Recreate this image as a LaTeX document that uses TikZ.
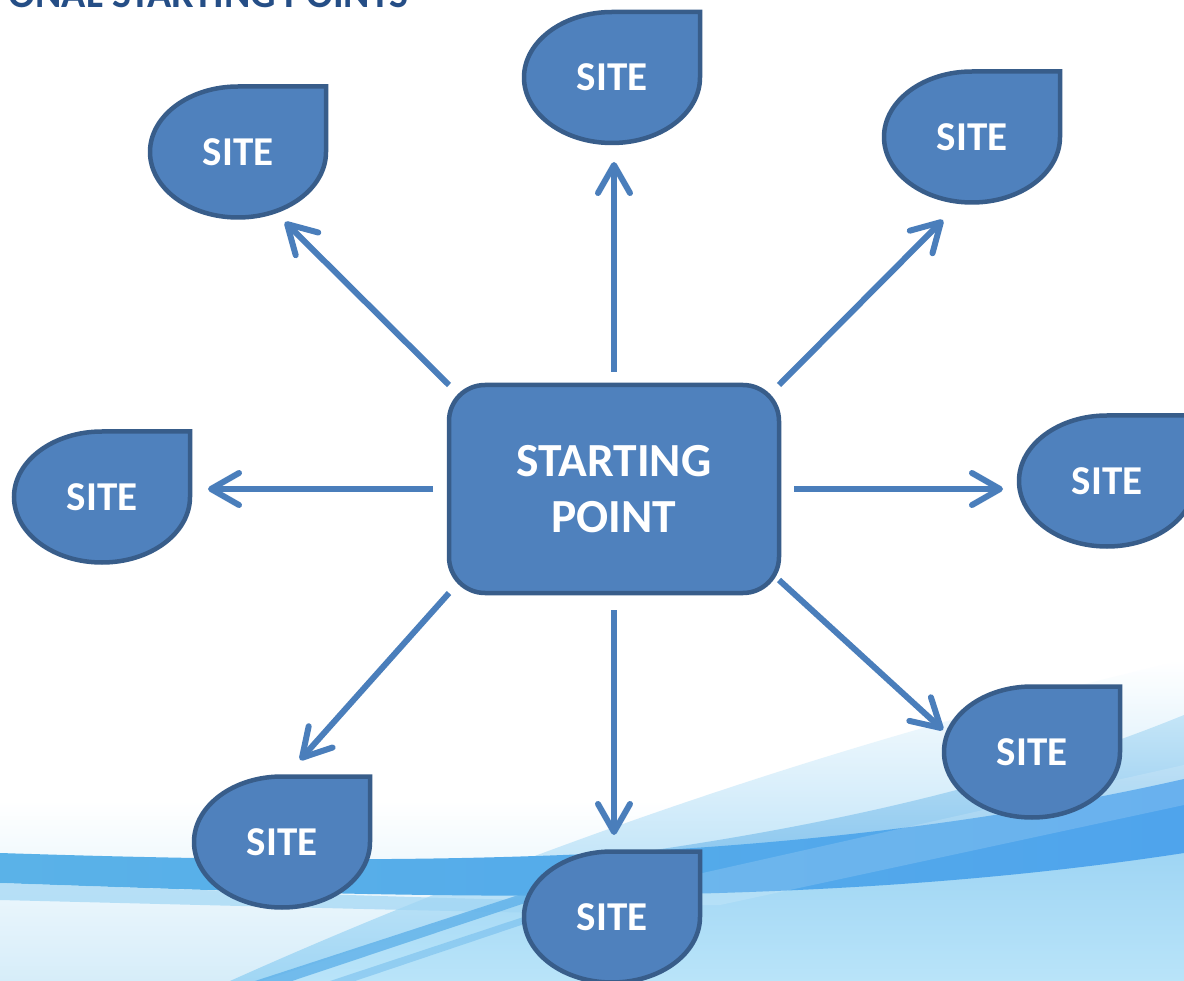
\documentclass[tikz,border=0pt]{standalone}
\usepackage{fontspec}
\setmainfont{Carlito}
\usetikzlibrary{arrows.meta,calc}
\definecolor{boxfill}{HTML}{4F81BD}
\definecolor{boxline}{HTML}{385D8A}
\definecolor{arrowc}{HTML}{4A7EBB}
\definecolor{titlec}{HTML}{254E86}
\definecolor{bandL}{HTML}{5AB2E8}
\definecolor{bandM}{HTML}{3D91DE}
\definecolor{bandR}{HTML}{4FA4EC}
\definecolor{wedgeT}{HTML}{C4E5F7}
\definecolor{wedge}{HTML}{A0D6F4}
\definecolor{wedgeB}{HTML}{B9E4F9}
\definecolor{midblue}{HTML}{86C4EE}
\definecolor{paleL}{HTML}{D6EDF9}
\definecolor{streak}{HTML}{5AAEE8}
\pgfdeclarelayer{bg}
\pgfdeclarelayer{mid}
\pgfsetlayers{bg,mid,main}
\tikzset{
  sitenode/.style={rectangle, minimum width=176pt, minimum height=131pt, inner sep=0pt, outer sep=0pt, text=white, font=\bfseries\fontsize{41}{48}\selectfont},
  sitebody/.style={fill=boxfill, draw=boxline, line width=4.5pt},
  startbox/.style={rectangle, rounded corners=36pt, fill=boxfill, draw=boxline, line width=4.5pt, minimum width=330pt, minimum height=208pt, outer sep=0pt, text=white, align=center, font=\bfseries\fontsize{47.5}{56}\selectfont},
  arr/.style={draw=arrowc, line width=6pt, -{Straight Barb[length=28pt,width=32pt,round]}},
  titletext/.style={anchor=base east, text=titlec, inner sep=0pt, font=\bfseries\fontsize{40}{48}\selectfont},
}
\newcommand{\sitedrop}[1]{%
  \begin{pgfonlayer}{mid}
  \path[sitebody] (#1.east) -- (#1.north east) -- (#1.north)
    .. controls ($(#1.north)!0.552!(#1.north west)$) and ($(#1.west)!0.552!(#1.north west)$) .. (#1.west)
    .. controls ($(#1.west)!0.552!(#1.south west)$) and ($(#1.south)!0.552!(#1.south west)$) .. (#1.south)
    .. controls ($(#1.south)!0.552!(#1.south east)$) and ($(#1.east)!0.552!(#1.south east)$) .. (#1.east) -- cycle;
  \end{pgfonlayer}}
\begin{document}
\begin{tikzpicture}[x=1pt,y=-1pt]
\useasboundingbox (0,0) rectangle (1184,981);
% background
\begin{pgfonlayer}{bg}
  \fill[white] (0,0) rectangle (1184,981);
  % pale lower band on the left
  \shade[top color=white, bottom color=paleL] (0,800) rectangle (1184,981);
  % light wedge rising to the right
  \shade[top color=white, middle color=wedgeT, bottom color=wedge]
    (230,981) .. controls (500,860) and (820,745) .. (1184,660) -- (1184,981) -- cycle;
  % mid blue zone above band
  \shade[top color=wedgeT, bottom color=midblue]
    (480,872) .. controls (780,840) and (1000,790) .. (1184,715) -- (1184,800) .. controls (900,865) .. (480,875) -- cycle;
  % light zone below band, right of the diagonal
  \shade[top color=wedge!90!midblue, bottom color=wedgeB]
    (545,888) .. controls (800,890) and (1000,870) .. (1184,845) -- (1184,981) -- (262,981) -- cycle;
  % main band
  \shade[left color=bandL, middle color=bandM, right color=bandR]
    (0,853) .. controls (400,866) and (800,866) .. (1184,779) -- (1184,853)
    .. controls (800,912) and (400,897) .. (0,883) -- cycle;
  % light strip under the band at left
  \fill[wedge, opacity=0.7] (0,883) .. controls (400,897) .. (640,903) -- (640,915) .. controls (400,910) .. (0,900) -- cycle;
  % lighter diagonal inside band
  \fill[white, opacity=0.15] (560,905) -- (1184,765) -- (1184,805) -- (720,905) -- cycle;
  % diagonal streaks lower left
  \fill[streak, opacity=0.75] (255,981) -- (540,888) -- (570,888) -- (292,981) -- cycle;
  \fill[streak, opacity=0.4] (330,981) -- (620,885) -- (640,885) -- (355,981) -- cycle;
\end{pgfonlayer}
% title
\node[titletext] (title) at (409,8) {ONAL STARTING POINTS};
% centre
\node[startbox] (box) at (614,489) {STARTING\\POINT};
% sites
\node[sitenode] (s1) at (612,77.5) {SITE};
\node[sitenode] (s2) at (238,152) {SITE};
\node[sitenode] (s3) at (972,137) {SITE};
\node[sitenode] (s4) at (102,497) {SITE};
\node[sitenode] (s5) at (1107,481) {SITE};
\node[sitenode] (s6) at (282,842) {SITE};
\node[sitenode] (s7) at (612,917) {SITE};
\node[sitenode] (s8) at (1032,752) {SITE};
\sitedrop{s1}\sitedrop{s2}\sitedrop{s3}\sitedrop{s4}
\sitedrop{s5}\sitedrop{s6}\sitedrop{s7}\sitedrop{s8}
% arrows
\draw[arr] ([yshift=13pt]box.north) -- ([shift={(2pt,-19pt)}]s1.south);
\draw[arr] (box.north west) -- ([shift={(47pt,-4.5pt)}]s2.south);
\draw[arr] (box.north east) -- ([shift={(-29pt,-17.5pt)}]s3.south);
\draw[arr] ([xshift=-16pt]box.west) -- ([shift={(18pt,8pt)}]s4.east);
\draw[arr] ([xshift=15pt]box.east) -- ([shift={(-16pt,-8pt)}]s5.west);
\draw[arr] (box.south west) -- ([shift={(18pt,16.5pt)}]s6.north);
\draw[arr] ([yshift=-17pt]box.south) -- ([shift={(2pt,16.5pt)}]s7.north);
\draw[arr] ([yshift=13pt]box.south east) -- ([shift={(-1pt,22pt)}]s8.west);
\end{tikzpicture}
\end{document}
